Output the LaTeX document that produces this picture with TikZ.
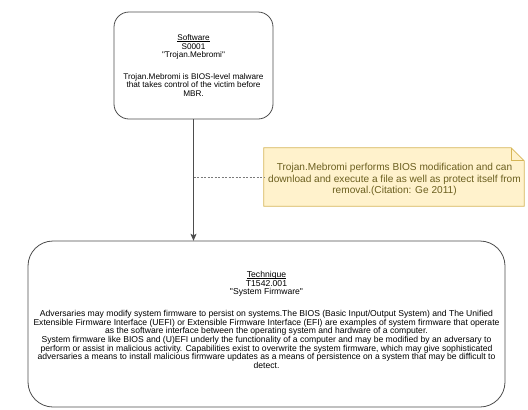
\documentclass[tikz,border=0pt]{standalone}
\usepackage{fontspec}
\setmainfont{Liberation Sans}
\usetikzlibrary{arrows.meta}
\definecolor{boxline}{HTML}{4D4D4D}
\definecolor{notefill}{HTML}{FFF2CC}
\definecolor{noteline}{HTML}{D6B656}
\definecolor{notetext}{HTML}{6B5F1F}
\definecolor{linkgray}{HTML}{7A7A7A}
% thin underline set close to the baseline
\newcommand\titleline[1]{\setbox0\hbox{#1}\rlap{\rule[-1.1pt]{\wd0}{0.45pt}}\box0}
\tikzset{
  card/.style={draw=boxline, line width=0.8pt, fill=white},
  cardtext/.style={align=center, inner sep=0pt, font=\fontsize{8.2}{8.7}\selectfont},
  techtextstyle/.style={align=center, inner sep=0pt, font=\fontsize{8.6}{8.7}\selectfont},
  notetextstyle/.style={align=center, inner sep=0pt, text=notetext, font=\fontsize{10.1}{11.6}\selectfont},
  flow/.style={draw=boxline, line width=0.8pt, -{Stealth[length=7pt,width=6pt,inset=1.5pt]}},
  link/.style={draw=linkgray, line width=0.8pt, dash pattern=on 2pt off 1.5pt},
}
\begin{document}
\begin{tikzpicture}[x=1pt,y=-1pt]
\useasboundingbox (0,0) rectangle (528,410);

% software card
\draw[card, rounded corners=15pt] (114,12) rectangle (273,119);
\node[minimum width=159pt, minimum height=107pt, inner sep=0pt] (sw) at (193.5,65.5) {};
\node[cardtext] (swtext) at (193.5,65.5) {\titleline{Software}\\S0001\\\textquotedbl Trojan.Mebromi\textquotedbl\\[12.7pt]Trojan.Mebromi is BIOS-level malware\\that takes control of the victim before\\MBR.};

% technique card
\draw[card, rounded corners=25pt] (28,241) rectangle (505,407);
\node[minimum width=477pt, minimum height=166pt, inner sep=0pt] (tech) at (266.5,324) {};
\node[techtextstyle] (techtext) at (266.5,320) {\titleline{Technique}\\T1542.001\\\textquotedbl System Firmware\textquotedbl\\[12.7pt]Adversaries may modify system firmware to persist on systems.The BIOS (Basic Input/Output System) and The Unified\\Extensible Firmware Interface (UEFI) or Extensible Firmware Interface (EFI) are examples of system firmware that operate\\as the software interface between the operating system and hardware of a computer.\\System firmware like BIOS and (U)EFI underly the functionality of a computer and may be modified by an adversary to\\perform or assist in malicious activity. Capabilities exist to overwrite the system firmware, which may give sophisticated\\adversaries a means to install malicious firmware updates as a means of persistence on a system that may be difficult to\\detect.};

% note with folded corner
\node[minimum width=260pt, minimum height=58pt, inner sep=0pt] (note) at (394,177) {};
\draw[draw=noteline, fill=notefill, line width=0.8pt]
  (note.north west) -- ([xshift=-13pt]note.north east) -- ([yshift=-13pt]note.north east)
  -- (note.south east) -- (note.south west) -- cycle;
\draw[draw=noteline, line width=0.8pt]
  ([xshift=-13pt]note.north east) -- ([xshift=-13pt,yshift=-13pt]note.north east) -- ([yshift=-13pt]note.north east);
\node[notetextstyle] (notetext) at (394.5,179.5) {Trojan.Mebromi performs BIOS modification and can\\download and execute a file as well as protect itself from\\removal.(Citation: Ge 2011)};

% connectors
\draw[flow] (sw.south) -- (tech.north -| sw.south);
\coordinate (tap) at (sw.south |- note.west);
\draw[link] (tap) -- (note.west);
\end{tikzpicture}
\end{document}
